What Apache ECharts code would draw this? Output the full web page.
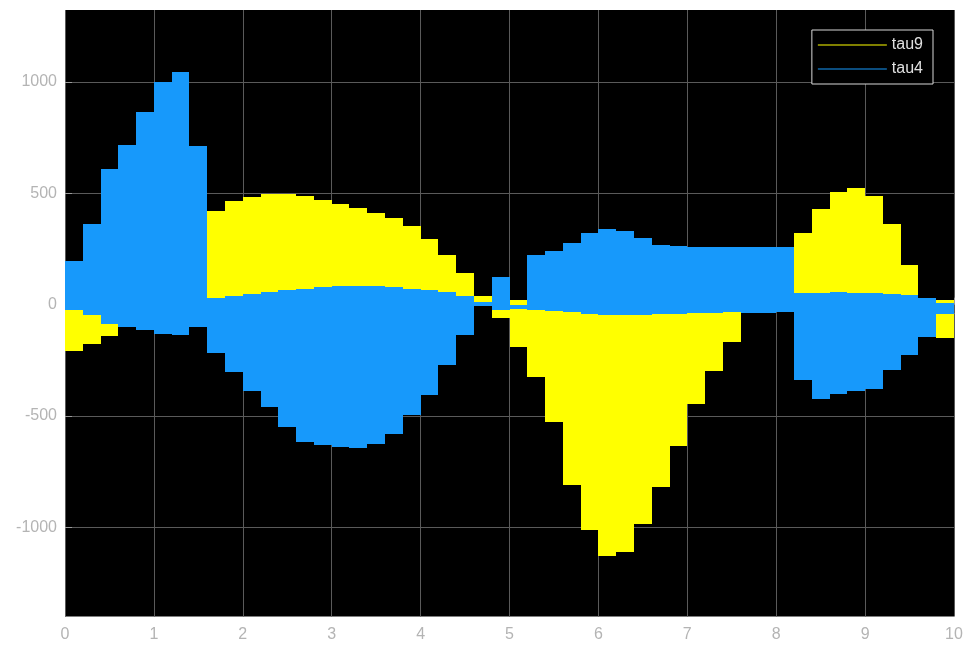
<!DOCTYPE html>
<html>
<head>
<meta charset="utf-8">
<script src="https://cdn.jsdelivr.net/npm/echarts@6/dist/echarts.min.js"></script>
<style>
  html, body { margin: 0; padding: 0; background: #ffffff; }
  #chart { width: 969px; height: 648px; }
</style>
</head>
<body>
<div id="chart"></div>
<script>
// Joint torques tau9 and tau4 oscillate quickly inside an envelope that is
// held constant over each 0.2 s control period; each period is drawn as the
// band between the lowest and highest value the torque reaches in it.

// Start time (s) of every hold period
const stepStart = [
  0.0, 0.2, 0.4, 0.6, 0.8, 1.0, 1.2, 1.4, 1.6, 1.8,
  2.0, 2.2, 2.4, 2.6, 2.8, 3.0, 3.2, 3.4, 3.6, 3.8,
  4.0, 4.2, 4.4, 4.6, 4.8, 5.0, 5.2, 5.4, 5.6, 5.8,
  6.0, 6.2, 6.4, 6.6, 6.8, 7.0, 7.2, 7.4, 7.6, 7.8,
  8.0, 8.2, 8.4, 8.6, 8.8, 9.0, 9.2, 9.4, 9.6, 9.8
];
const endTime = 10;

// tau9 envelope (upper / lower) per period
const tau9Upper = [
  -20, -40, -80, -40, -40, -30, -20, -10, 421, 465,
  484, 496, 497, 487, 470, 450, 432, 410, 388, 355,
  295, 225, 140, 38, 10, 22, -5, -10, -12, -15,
  -18, -20, -18, -15, -12, -10, -8, -5, 10, 10,
  10, 320, 428, 504, 523, 486, 360, 179, 0, 22
];
const tau9Lower = [
  -208, -175, -140, -90, -100, -110, -120, -90, 10, 10,
  10, 10, 10, 10, 10, 10, 10, 10, 10, 10,
  10, 10, 15, 10, -62, -188, -324, -526, -811, -1013,
  -1130, -1110, -983, -818, -636, -447, -297, -167, -20, -20,
  -20, 20, 20, 20, 20, 20, 20, 20, -60, -148
];

// tau4 envelope (upper / lower) per period
const tau4Upper = [
  195, 362, 608, 718, 866, 1000, 1045, 712, 32, 40,
  48, 56, 64, 72, 78, 82, 84, 82, 78, 72,
  64, 55, 40, 10, 125, 0, 222, 242, 275, 320,
  342, 330, 300, 267, 263, 260, 260, 257, 257, 257,
  257, 52, 54, 55, 54, 52, 50, 42, 28, 9
];
const tau4Lower = [
  -25, -45, -85, -98, -115, -130, -138, -100, -219, -302,
  -387, -459, -549, -616, -631, -639, -644, -624, -579, -496,
  -407, -272, -135, -5, -25, -18, -22, -28, -35, -42,
  -47, -47, -45, -42, -40, -38, -37, -35, -38, -36,
  -35, -338, -425, -403, -388, -379, -292, -225, -144, -41
];

const xTicks = [0, 1, 2, 3, 4, 5, 6, 7, 8, 9, 10];
const yTicks = [-1000, -500, 0, 500, 1000];

const seriesNames = ['tau9', 'tau4'];
const seriesColors = ['#ffff00', '#1799fb'];

// One row per hold period: [start, end, lower, upper]
function bandRows(lower, upper) {
  return stepStart.map(function (t, i) {
    const tEnd = i + 1 < stepStart.length ? stepStart[i + 1] : endTime;
    return [t, tEnd, lower[i], upper[i]];
  });
}

// Snap band edges to whole pixels so neighbouring periods join without seams
function renderBand(params, api) {
  const topLeft = api.coord([api.value(0), api.value(3)]);
  const bottomRight = api.coord([api.value(1), api.value(2)]);
  const x0 = Math.round(topLeft[0]);
  const x1 = Math.round(bottomRight[0]);
  const y0 = Math.round(topLeft[1]);
  const y1 = Math.max(Math.round(bottomRight[1]), y0 + 1);
  return {
    type: 'rect',
    shape: { x: x0, y: y0, width: x1 - x0, height: y1 - y0 },
    style: { fill: api.visual('color'), stroke: null, lineWidth: 0 }
  };
}

const labelColor = '#b4b4b4';
const gridColor = '#5a5a5a';
const fontFamily = 'Liberation Sans, Arial, sans-serif';

const chart = echarts.init(document.getElementById('chart'), null, { renderer: 'canvas' });

chart.setOption({
  backgroundColor: '#ffffff',
  animation: false,
  grid: {
    left: 65, right: 15, top: 10, bottom: 31.5,
    show: true, backgroundColor: '#000000', borderWidth: 0
  },
  legend: {
    data: [
      { name: seriesNames[0], icon: 'rect' },
      { name: seriesNames[1], icon: 'rect' }
    ],
    orient: 'vertical',
    right: 36,
    top: 30,
    padding: [6, 10, 6, 6],
    itemGap: 6,
    itemWidth: 69,
    itemHeight: 1.2,
    backgroundColor: '#000000',
    borderColor: '#d8d8d8',
    borderWidth: 1,
    borderRadius: 0,
    selectedMode: false,
    textStyle: {
      color: '#e0e0e0',
      fontSize: 16,
      lineHeight: 18,
      fontFamily: fontFamily
    }
  },
  xAxis: {
    type: 'value',
    min: xTicks[0],
    max: xTicks[xTicks.length - 1],
    interval: 1,
    axisLine: { show: false },
    axisTick: { show: true, inside: true, length: 7, lineStyle: { color: '#9a9a9a' } },
    splitLine: { show: true, lineStyle: { color: gridColor, width: 1 } },
    axisLabel: {
      color: labelColor,
      fontSize: 16,
      margin: 10,
      fontFamily: fontFamily,
      formatter: function (v) { return String(v); }
    }
  },
  yAxis: {
    type: 'value',
    min: -1400,
    max: 1323,
    axisLine: { show: false },
    axisTick: {
      show: true, inside: true, length: 7,
      customValues: yTicks,
      lineStyle: { color: '#9a9a9a' }
    },
    splitLine: { show: true, lineStyle: { color: gridColor, width: 1 } },
    axisLabel: {
      customValues: yTicks,
      color: labelColor,
      fontSize: 16,
      margin: 8,
      fontFamily: fontFamily,
      formatter: function (v) { return String(v); }
    }
  },
  series: [
    {
      name: seriesNames[0],
      type: 'custom',
      clip: true,
      renderItem: renderBand,
      itemStyle: { color: seriesColors[0] },
      encode: { x: [0, 1], y: [2, 3] },
      data: bandRows(tau9Lower, tau9Upper),
      z: 2
    },
    {
      name: seriesNames[1],
      type: 'custom',
      clip: true,
      renderItem: renderBand,
      itemStyle: { color: seriesColors[1] },
      encode: { x: [0, 1], y: [2, 3] },
      data: bandRows(tau4Lower, tau4Upper),
      z: 3
    }
  ]
});
</script>
</body>
</html>
